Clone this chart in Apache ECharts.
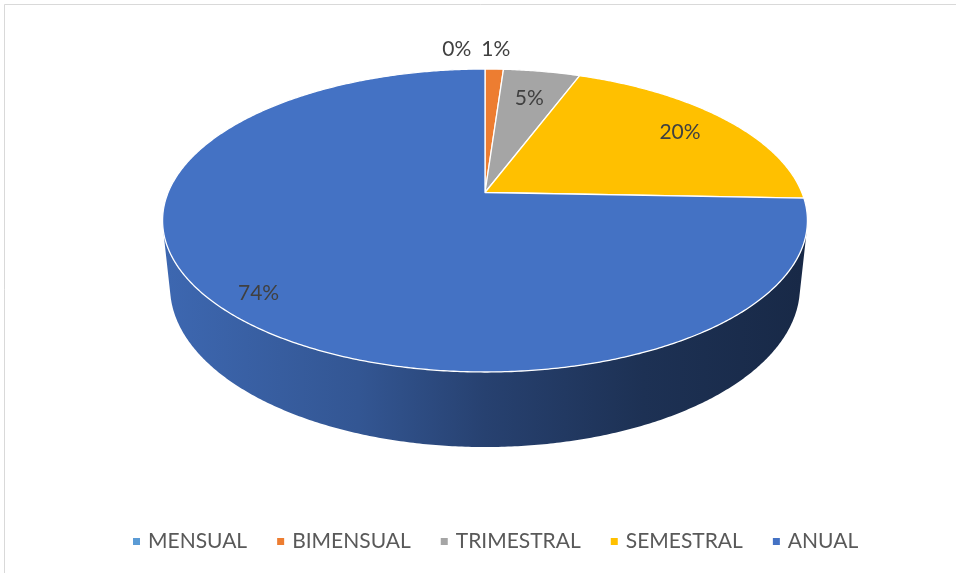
<!DOCTYPE html>
<html>
<head>
<meta charset="utf-8">
<script src="https://cdn.jsdelivr.net/npm/echarts@6/dist/echarts.min.js"></script>
<style>
  html, body { margin: 0; padding: 0; background: #ffffff; }
  #chart { width: 956px; height: 573px; }
</style>
</head>
<body>
<div id="chart"></div>
<script>
// Payment frequency shares (percent)
const categories = ['MENSUAL', 'BIMENSUAL', 'TRIMESTRAL', 'SEMESTRAL', 'ANUAL'];
const shares = [0, 1.1, 4.6, 19.9, 74.4];
const colors = ['#5B9BD5', '#ED7D31', '#A5A5A5', '#FFC000', '#4472C4'];

// Perspective view of the disc: centre on screen, focal length (px per radius),
// camera distance (radii), elevation angle and disc thickness (radii)
const VIEW = { cx: 485, cy: 192.5, focal: 1521, dist: 4.80, elev: 27.5 * Math.PI / 180, depth: 0.2385 };
// radial position of each percentage label (fraction of radius)
const LABEL_R = [1.2, 1.2, 0.75, 0.8, 0.88];
const LABEL_FONT = { size: 21, family: 'Lato', color: '#404040' };
const STEP = Math.PI / 360;

const sinE = Math.sin(VIEW.elev), cosE = Math.cos(VIEW.elev);
function project(r, theta, z) {
  const x = r * Math.sin(theta), y = -r * Math.cos(theta);
  const d = VIEW.dist - (y * cosE + z * sinE);
  return [VIEW.cx + VIEW.focal * x / d, VIEW.cy + VIEW.focal * (y * sinE - z * cosE) / d];
}

// slice angles, clockwise from 12 o'clock
const total = shares.reduce((a, b) => a + b, 0);
const starts = [], ends = [];
let acc = 0;
shares.forEach(v => {
  starts.push(acc / total * 2 * Math.PI);
  acc += v;
  ends.push(acc / total * 2 * Math.PI);
});

// the outer wall faces the camera only on the near side
const wallFrom = Math.acos(-1 / (VIEW.dist * cosE));
const wallTo = 2 * Math.PI - wallFrom;

function shade(hex, f) {
  const n = parseInt(hex.slice(1), 16);
  const r = Math.round(((n >> 16) & 255) * f), g = Math.round(((n >> 8) & 255) * f), b = Math.round((n & 255) * f);
  return 'rgb(' + r + ',' + g + ',' + b + ')';
}
function wallFill(hex) {
  const left = project(1, 1.5 * Math.PI, 0)[0], right = project(1, 0.5 * Math.PI, 0)[0];
  return {
    type: 'linear', global: true, x: left, y: 0, x2: right, y2: 0,
    colorStops: [
      { offset: 0, color: shade(hex, 0.9) },
      { offset: 0.3, color: shade(hex, 0.75) },
      { offset: 0.5, color: shade(hex, 0.57) },
      { offset: 0.75, color: shade(hex, 0.43) },
      { offset: 1, color: shade(hex, 0.36) }
    ]
  };
}

// percentage labels, with outside labels nudged apart
const measureCtx = document.createElement('canvas').getContext('2d');
measureCtx.font = LABEL_FONT.size + 'px ' + LABEL_FONT.family;
const labels = shares.map((v, i) => {
  const mid = (starts[i] + ends[i]) / 2;
  const p = project(LABEL_R[i], mid, 0);
  const text = Math.round(v / total * 100) + '%';
  return { text, x: p[0], y: p[1], w: measureCtx.measureText(text).width, outside: LABEL_R[i] > 1 };
});
for (let i = labels.length - 1; i >= 0; i--) {
  for (let j = i + 1; j < labels.length; j++) {
    const a = labels[i], b = labels[j];
    if (!a.outside || !b.outside) continue;
    if (Math.abs(a.y - b.y) < LABEL_FONT.size && a.x + a.w / 2 > b.x - b.w / 2 - 10) {
      a.x = b.x - b.w / 2 - 10 - a.w / 2;
    }
  }
}

function makeRenderer(idx) {
  return function (params, api) {
    const a0 = starts[idx], a1 = ends[idx];
    const children = [];
    const w0 = Math.max(a0, wallFrom), w1 = Math.min(a1, wallTo);
    if (w1 > w0) {
      const top = [], bottom = [];
      const n = Math.max(2, Math.ceil((w1 - w0) / STEP));
      for (let k = 0; k <= n; k++) {
        const t = w0 + (w1 - w0) * k / n;
        top.push(project(1, t, 0));
        bottom.push(project(1, t, -VIEW.depth));
      }
      children.push({
        type: 'polygon', z2: 1,
        shape: { points: top.concat(bottom.reverse()) },
        style: { fill: wallFill(colors[idx]) }
      });
    }
    if (a1 > a0) {
      const pts = [project(0, 0, 0)];
      const n = Math.max(2, Math.ceil((a1 - a0) / STEP));
      for (let k = 0; k <= n; k++) pts.push(project(1, a0 + (a1 - a0) * k / n, 0));
      children.push({
        type: 'polygon', z2: 10,
        shape: { points: pts },
        style: { fill: colors[idx], stroke: '#ffffff', lineWidth: 1.3, lineJoin: 'round' }
      });
    }
    const lb = labels[idx];
    children.push({
      type: 'text', z2: 20, x: lb.x, y: lb.y,
      style: {
        text: lb.text, fill: LABEL_FONT.color, fontSize: LABEL_FONT.size,
        fontFamily: LABEL_FONT.family, align: 'center', verticalAlign: 'middle'
      }
    });
    return { type: 'group', children };
  };
}

const chart = echarts.init(document.getElementById('chart'), null, { renderer: 'canvas' });
chart.setOption({
  backgroundColor: '#ffffff',
  animation: false,
  graphic: [{
    type: 'rect', silent: true,
    shape: { x: 4.5, y: 4.5, width: 1000, height: 620 },
    style: { fill: 'none', stroke: '#d9d9d9', lineWidth: 1 }
  }],
  legend: {
    left: 128, top: 526,
    icon: 'rect', itemWidth: 7, itemHeight: 7, itemGap: 30,
    selectedMode: false,
    data: categories,
    textStyle: { color: '#595959', fontSize: 21, fontFamily: 'Lato', padding: [0, 0, 0, 3] }
  },
  series: categories.map((name, i) => ({
    type: 'custom',
    name: name,
    coordinateSystem: 'none',
    silent: true,
    itemStyle: { color: colors[i] },
    data: [shares[i]],
    renderItem: makeRenderer(i)
  }))
});
</script>
</body>
</html>
